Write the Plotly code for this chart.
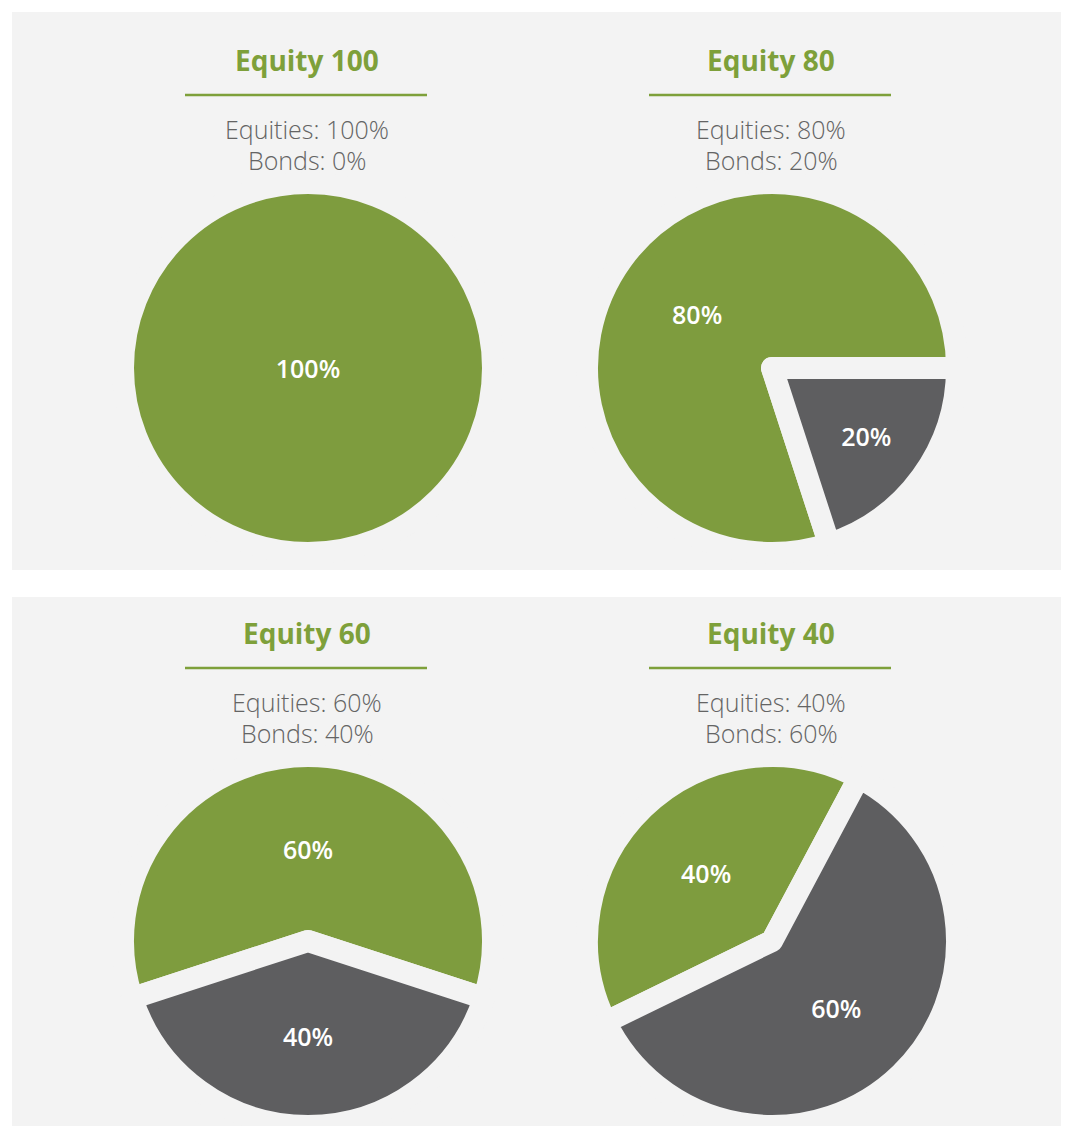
import plotly.graph_objects as go

# page body has an 8px margin; the figure is sized to fit inside it
OFF = 8
W, H = 1069 - 2 * OFF, 1134 - 2 * OFF

# ---- data ----
portfolios = ["Equity 100", "Equity 80", "Equity 60", "Equity 40"]
equities = [100, 80, 60, 40]
bonds = [0, 20, 40, 60]
rotations = [90, 162, 252, 244]

# ---- style ----
GREEN = "#7e9c3e"
TITLE_GREEN = "#7ea03a"
GREY = "#5e5e60"
PANEL = "#f3f3f3"
SUB = "#646464"
FONT = "Open Sans"

centers = [(308, 368), (772, 368), (308, 941), (772, 941)]
GAP = 22
R = 174 + GAP / 2


def px(x):
    return min(1.0, max(0.0, (x - OFF) / W))


def py(y):
    return min(1.0, max(0.0, 1 - (y - OFF) / H))


fig = go.Figure()

for i, name in enumerate(portfolios):
    cx, cy = centers[i]
    parts = [(v, lab, col) for v, lab, col in
             zip([equities[i], bonds[i]], ["Equities", "Bonds"], [GREEN, GREY]) if v > 0]
    vals = [p[0] for p in parts]
    fig.add_trace(go.Pie(
        values=vals,
        labels=[p[1] for p in parts],
        text=[f"{v}%" for v in vals],
        textinfo="text",
        textposition="inside",
        insidetextorientation="horizontal",
        textfont=dict(family=FONT, size=25, color="white", weight=600),
        marker=dict(colors=[p[2] for p in parts], line=dict(color=PANEL, width=GAP)),
        sort=False,
        direction="counterclockwise",
        rotation=rotations[i],
        hoverinfo="label+percent",
        showlegend=False,
        domain=dict(x=[px(cx - R), px(cx + R)], y=[py(cy + R), py(cy - R)]),
    ))

shapes = [
    dict(type="rect", xref="paper", yref="paper", x0=px(12), x1=px(1069), y0=py(570), y1=py(12),
         fillcolor=PANEL, line=dict(width=0), layer="below"),
    dict(type="rect", xref="paper", yref="paper", x0=px(12), x1=px(1069), y0=py(1134), y1=py(597),
         fillcolor=PANEL, line=dict(width=0), layer="below"),
]

annotations = []
title_y = [60, 60, 633, 633]
for i, name in enumerate(portfolios):
    cx, _ = centers[i]
    ty = title_y[i]
    annotations.append(dict(
        x=px(cx - 1), y=py(ty), xref="paper", yref="paper", showarrow=False,
        text=f"<b>{name}</b>", font=dict(family=FONT, size=28, color=TITLE_GREEN),
        xanchor="center", yanchor="middle"))
    shapes.append(dict(type="line", xref="paper", yref="paper",
                       x0=px(cx - 123), x1=px(cx + 119), y0=py(ty + 35), y1=py(ty + 35),
                       line=dict(color=TITLE_GREEN, width=2.5)))
    annotations.append(dict(
        x=px(cx - 1), y=py(ty + 69), xref="paper", yref="paper", showarrow=False,
        text=f"Equities: {equities[i]}%", font=dict(family=FONT, size=25, color=SUB, weight=300),
        xanchor="center", yanchor="middle"))
    annotations.append(dict(
        x=px(cx - 1), y=py(ty + 100), xref="paper", yref="paper", showarrow=False,
        text=f"Bonds: {bonds[i]}%", font=dict(family=FONT, size=25, color=SUB, weight=300),
        xanchor="center", yanchor="middle"))

fig.update_layout(
    width=W, height=H,
    margin=dict(l=0, r=0, t=0, b=0),
    paper_bgcolor="white",
    plot_bgcolor="white",
    shapes=shapes,
    annotations=annotations,
)

fig.write_html("out.html")
